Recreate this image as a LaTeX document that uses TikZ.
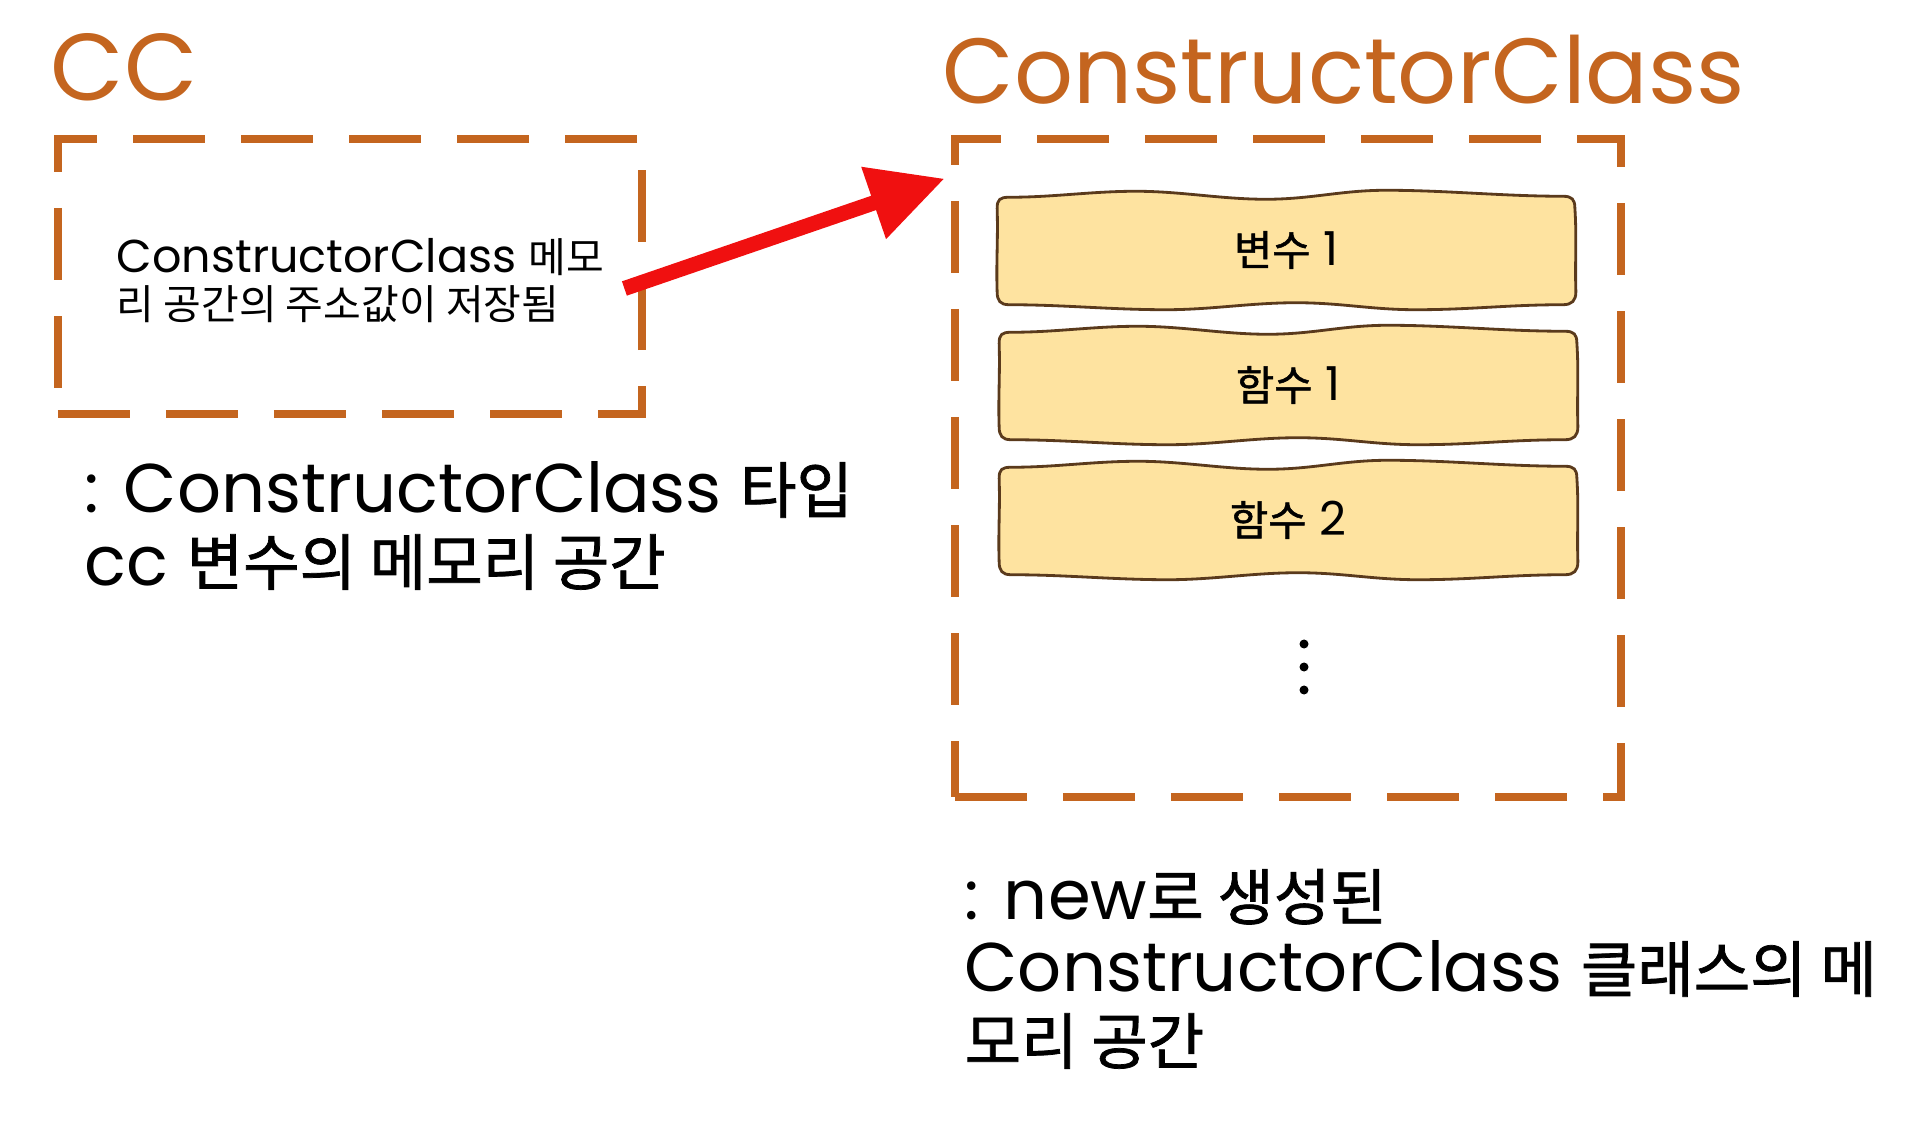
\documentclass[tikz,border=0pt]{standalone}
\usepackage{fontspec}
\setmainfont{Poppins}
\newfontfamily\krfont[Scale=0.89]{Noto Sans CJK KR}
\newfontfamily\krheavy[Scale=0.89,FakeBold=1.2]{Noto Sans CJK KR}
\newcommand\kor[1]{{\krfont #1}}
\newcommand\korh[1]{{\krheavy #1}}
\usetikzlibrary{arrows.meta,calc,backgrounds}
\definecolor{ccorange}{HTML}{C4651F}
\definecolor{cardfill}{HTML}{FEE3A0}
\definecolor{cardedge}{HTML}{5A3A1C}
\definecolor{arrowred}{HTML}{F01010}
\tikzset{
  ttl/.style={text=ccorange, inner sep=0pt, anchor=base west},
  memframe/.style={draw=ccorange, line width=2.4pt, dash pattern=on 0.72cm off 0.36cm, inner sep=0pt},
  capt/.style={font=\fontsize{19.6}{20.5}\selectfont, align=left, inner sep=0pt, anchor=base west},
  innertext/.style={font=\fontsize{13.1}{13.5}\selectfont, align=left, inner sep=0pt, anchor=base west},
  card/.style={minimum width=5.76cm, minimum height=1.12cm, inner sep=0pt, font=\fontsize{13.3}{14}\selectfont},
  cardline/.style={fill=cardfill, draw=cardedge, line width=0.8pt},
  pointer/.style={draw=arrowred, line width=4.3pt, -{Triangle[length=0.75cm,width=0.72cm]}},
  dotmark/.style={circle, fill=black, inner sep=0pt, minimum size=0.09cm},
}
\newcommand\wavycard[1]{%
  \filldraw[cardline]
    ($(#1.north west)+(12,4)$)
    .. controls +(45,0) and +(-45,0) .. ($(#1.north)+(-150,-2)$)
    .. controls +(45,0) and +(-45,0) .. ($(#1.north)+(-20,6)$)
    .. controls +(45,0) and +(-45,0) .. ($(#1.north)+(100,-3)$)
    .. controls +(60,0) and +(-60,0) .. ($(#1.north east)+(-12,3)$)
    .. controls +(9,0) and +(0,-9) .. ($(#1.north east)+(0,15)$)
    .. controls +(2,30) and +(-1,-30) .. ($(#1.south east)+(1,-15)$)
    .. controls +(0,9) and +(9,0) .. ($(#1.south east)+(-12,-2)$)
    .. controls +(-55,0) and +(55,0) .. ($(#1.south)+(130,3)$)
    .. controls +(-45,0) and +(45,0) .. ($(#1.south)+(10,-4)$)
    .. controls +(-45,0) and +(45,0) .. ($(#1.south)+(-120,3)$)
    .. controls +(-55,0) and +(55,0) .. ($(#1.south west)+(12,-2)$)
    .. controls +(-9,0) and +(0,9) .. ($(#1.south west)+(0,-15)$)
    .. controls +(-1,-30) and +(1,30) .. ($(#1.north west)+(0,15)$)
    .. controls +(0,-9) and +(-9,0) .. ($(#1.north west)+(12,4)$) -- cycle;}
\begin{document}
\begin{tikzpicture}[x=0.01cm, y=-0.01cm]
  \useasboundingbox (0,0) rectangle (1928,1125);
  % titles
  \node[ttl, font=\fontsize{27}{30}\selectfont] (cctitle) at (50,101) {CC};
  \node[ttl, font=\fontsize{26.3}{30}\selectfont] (objtitle) at (942,104) {ConstructorClass};
  % frames
  \node[memframe, minimum width=5.84cm, minimum height=2.75cm] (ccbox) at (350,276.5) {};
  \node[memframe, minimum width=6.66cm, minimum height=6.58cm] (objbox) at (1288,468) {};
  % inner text of cc
  \node[innertext] (ccinner) at (116,320) {ConstructorClass \kor{메모}\\\kor{리 공간의 주소값이 저장됨}};
  % cards
  \node[card] (var1) at (1286,250) {\korh{변수} 1};
  \node[card] (fun1) at (1288,385) {\korh{함수} 1};
  \node[card] (fun2) at (1288,520) {\korh{함수} 2};
  \begin{pgfonlayer}{background}
    \wavycard{var1}
    \wavycard{fun1}
    \wavycard{fun2}
  \end{pgfonlayer}
  % dots
  \node[dotmark] (dotA) at (1304,644) {};
  \node[dotmark] (dotB) at (1304,667) {};
  \node[dotmark] (dotC) at (1304,690) {};
  % captions
  \node[capt] (capcc) at (84,585) {: ConstructorClass \korh{타입}\\cc \korh{변수의 메모리 공간}};
  \node[capt] (capobj) at (964,1064) {: new\korh{로 생성된}\\ConstructorClass \korh{클래스의 메}\\\korh{모리 공간}};
  % arrow
  \coordinate (arrowstart) at ($(ccbox.east)+(-22,12)$);
  \coordinate (arrowtip) at ($(objbox.north west)+(-6,44)$);
  \draw[pointer] (arrowstart) -- (arrowtip);
\end{tikzpicture}
\end{document}
